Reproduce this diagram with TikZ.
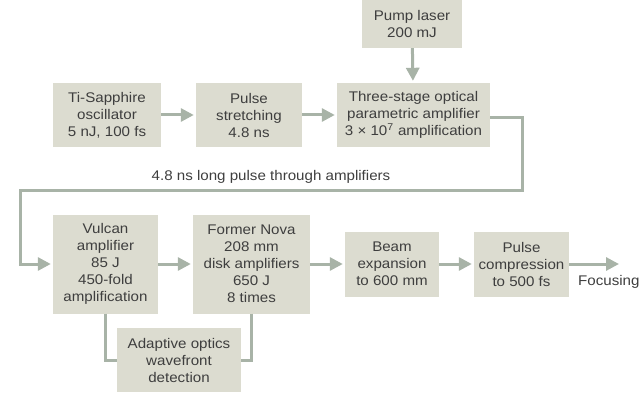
\documentclass[tikz,border=0pt]{standalone}
\usepackage{fontspec}
\setmainfont{Liberation Sans}[FakeStretch=1.08]
\usetikzlibrary{arrows.meta}
\definecolor{boxfill}{HTML}{DCDCD0}
\definecolor{flow}{HTML}{A8B3A7}
\definecolor{txt}{HTML}{3E3E3E}
\tikzset{
  blk/.style={fill=boxfill, draw=none, inner sep=0pt, align=center, text=txt,
    font=\fontsize{14}{17}\selectfont},
  flowline/.style={draw=flow, line width=3pt},
  flowarrow/.style={flowline, -{Triangle[width=13pt,length=13pt]}, shorten >=2pt},
  lbl/.style={text=txt, font=\fontsize{14}{17}\selectfont, inner sep=0pt}
}
\begin{document}
\begin{tikzpicture}[x=1pt,y=-1pt]
\useasboundingbox (0,0) rectangle (640,417);
% top row
\node[blk, minimum width=100pt, minimum height=48pt] (pump) at (412,24) {Pump laser\\200 mJ};
\node[blk, minimum width=108pt, minimum height=64pt] (ti) at (107,115) {Ti-Sapphire\\oscillator\\5 nJ, 100 fs};
\node[blk, minimum width=106pt, minimum height=64pt] (str) at (249,115) {Pulse\\stretching\\4.8 ns};
\node[blk, minimum width=153pt, minimum height=64pt] (opa) at (413.5,115) {Three-stage optical\\parametric amplifier\\3 × 10\textsuperscript{7} amplification};
% bottom row
\node[blk, minimum width=105pt, minimum height=99pt] (vul) at (105.5,264) {Vulcan\\amplifier\\85 J\\450-fold\\amplification};
\node[blk, minimum width=117pt, minimum height=99pt] (nova) at (251.5,264) {Former Nova\\208 mm\\disk amplifiers\\650 J\\8 times};
\node[blk, minimum width=124pt, minimum height=64pt] (ada) at (179,360) {Adaptive optics\\wavefront\\detection};
\node[blk, minimum width=94pt, minimum height=65pt] (beam) at (392,264) {Beam\\expansion\\to 600 mm};
\node[blk, minimum width=95pt, minimum height=65pt] (comp) at (521.5,264) {Pulse\\compression\\to 500 fs};
\node[lbl, anchor=west] (foc) at (578,282) {Focusing};
\node[lbl] (pl) at (271,177) {4.8 ns long pulse through amplifiers};
% coordinates
\coordinate (c1) at (522,118);
\coordinate (c2) at (522,190);
\coordinate (c3) at (20,190);
\coordinate (c4) at (20,264);
\coordinate (fend) at (619,264);
% connectors
\draw[flowarrow] (pump) -- (opa);
\draw[flowarrow] (ti) -- (str);
\draw[flowarrow] (str) -- (opa);
\draw[flowarrow] (opa.east |- c1) -- (c1) -- (c2) -- (c3) -- (c4) -- (vul.west);
\draw[flowarrow] (vul) -- (nova);
\draw[flowarrow] (nova) -- (beam);
\draw[flowarrow] (beam) -- (comp);
\draw[flowarrow, shorten >=0pt] (comp.east) -- (fend);
\draw[flowline] (vul.south) |- (ada.west);
\draw[flowline] (nova.south) |- (ada.east);
\end{tikzpicture}
\end{document}
